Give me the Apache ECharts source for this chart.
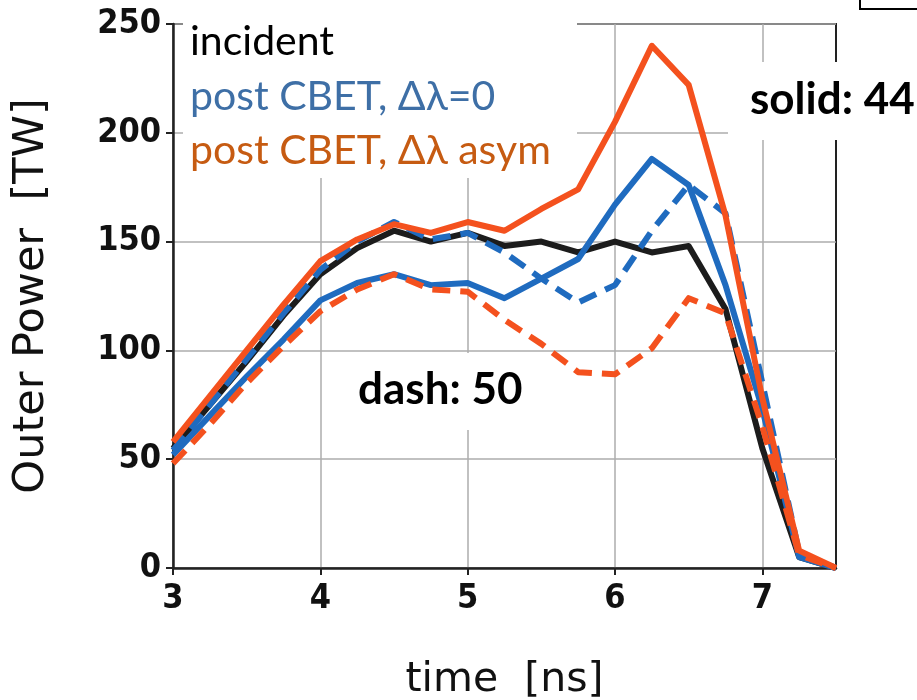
<!DOCTYPE html>
<html>
<head>
<meta charset="utf-8">
<script src="https://cdn.jsdelivr.net/npm/echarts@6/dist/echarts.min.js"></script>
<style>html,body{margin:0;padding:0;background:#fff}#c{width:917px;height:700px}</style>
</head>
<body>
<div id="c"></div>
<script>
var times = [3, 3.25, 3.5, 3.75, 4, 4.25, 4.5, 4.75, 5, 5.25, 5.5, 5.75, 6, 6.25, 6.5, 6.75, 7, 7.25, 7.5];
var incident    = [55, 75, 95, 116, 135, 147, 155, 150, 154, 148, 150, 145, 150, 145, 148, 119, 55, 5, 0];
var blueSolid   = [52, 70, 88, 105, 123, 131, 135, 130, 131, 124, 133, 142, 167, 188, 176, 130, 73, 5, 0];
var blueDash    = [54, 75, 96, 117, 137, 150, 159, 151, 154, 145, 133, 122, 130, 155, 176, 163, 85, 7, 0];
var orangeSolid = [58, 79, 100, 121, 141, 151, 158, 154, 159, 155, 165, 174, 205, 240, 222, 162, 78, 8, 0];
var orangeDash  = [48, 66, 85, 102, 118, 128, 135, 128, 127, 114, 103, 90, 89, 101, 124, 117, 65, 6, 0];
var xTicks = [3, 4, 5, 6, 7];
var yTicks = [0, 50, 100, 150, 200, 250];
var legendLabels = ['incident', 'post CBET, \u0394\u03bb=0', 'post CBET, \u0394\u03bb asym'];
var noteSolid = 'solid: 44';
var noteDash = 'dash: 50';

function pairs(ys) { return times.map(function (t, i) { return [t, ys[i]]; }); }

var BLACK = '#1c1c1c', BLUE = '#1f6bbf', ORANGE = '#f4511e';
var tickFont = 'DejaVu Sans Condensed, DejaVu Sans, sans-serif';
var textFont = 'Lato, Open Sans, sans-serif';

function line(data, color, dashed, z) {
  return {
    type: 'line', data: pairs(data), symbol: 'none', z: z, animation: false,
    lineStyle: { color: color, width: 6, type: dashed ? [18, 10] : 'solid', cap: 'butt', join: 'round' }
  };
}

var chart = echarts.init(document.getElementById('c'), null, { renderer: 'canvas' });
chart.setOption({
  animation: false,
  backgroundColor: '#fff',
  grid: { left: 173, right: 81, top: 24, bottom: 132, containLabel: false, outerBoundsMode: 'none', show: true, borderColor: '#222', borderWidth: 2, backgroundColor: 'transparent' },
  xAxis: {
    type: 'value', min: 3, max: 7.5, interval: 1,
    name: 'time  [ns]', nameLocation: 'middle', nameGap: 92,
    nameTextStyle: { fontFamily: 'DejaVu Sans, sans-serif', fontSize: 41, color: '#111' },
    axisLine: { lineStyle: { color: '#222', width: 2.5 } },
    axisTick: { length: 7, lineStyle: { color: '#222', width: 2 }, customValues: xTicks },
    axisLabel: { customValues: xTicks, fontFamily: tickFont, fontWeight: 'bold', fontSize: 34, color: '#111', margin: 14 },
    splitLine: { show: true, lineStyle: { color: '#adadad', width: 1.5 } }
  },
  yAxis: {
    type: 'value', min: 0, max: 250, interval: 50,
    name: 'Outer Power  [TW]', nameLocation: 'middle', nameGap: 120, nameRotate: 90,
    nameTextStyle: { fontFamily: 'DejaVu Sans, sans-serif', fontSize: 43, color: '#111' },
    axisLine: { show: true, lineStyle: { color: '#222', width: 2.5 } },
    axisTick: { show: true, length: 7, lineStyle: { color: '#222', width: 2 } },
    axisLabel: { fontFamily: tickFont, fontWeight: 'bold', fontSize: 34, color: '#111', margin: 12 },
    splitLine: { show: true, lineStyle: { color: '#adadad', width: 1.5 } }
  },
  series: [
    line(incident, BLACK, false, 2),
    line(blueSolid, BLUE, false, 3),
    line(blueDash, BLUE, true, 4),
    line(orangeSolid, ORANGE, false, 5),
    line(orangeDash, ORANGE, true, 6)
  ],
  graphic: [
    { type: 'rect', z: 100, shape: { x: 183, y: 0, width: 394, height: 178 }, style: { fill: '#fff' } },
    { type: 'rect', z: 100, shape: { x: 728, y: 62, width: 189, height: 78 }, style: { fill: '#fff' } },
    { type: 'rect', z: 100, shape: { x: 345, y: 353, width: 188, height: 77 }, style: { fill: '#fff' } },
    { type: 'rect', z: 100, shape: { x: 860, y: -20, width: 90, height: 29 }, style: { fill: 'none', stroke: '#000', lineWidth: 2 } },
    { type: 'text', z: 101, x: 190, y: 42, style: { text: legendLabels[0], fill: '#000', font: '41px ' + textFont, verticalAlign: 'middle' } },
    { type: 'text', z: 101, x: 190, y: 97, style: { text: legendLabels[1], fill: '#3e6fa6', font: '41px ' + textFont, verticalAlign: 'middle' } },
    { type: 'text', z: 101, x: 190, y: 151, style: { text: legendLabels[2], fill: '#c65b12', font: '41px ' + textFont, verticalAlign: 'middle' } },
    { type: 'text', z: 101, x: 750, y: 100, style: { text: noteSolid, fill: '#000', font: 'bold 44px ' + textFont, verticalAlign: 'middle' } },
    { type: 'text', z: 101, x: 358, y: 390, style: { text: noteDash, fill: '#000', font: 'bold 44px ' + textFont, verticalAlign: 'middle' } }
  ]
});
</script>
</body>
</html>
